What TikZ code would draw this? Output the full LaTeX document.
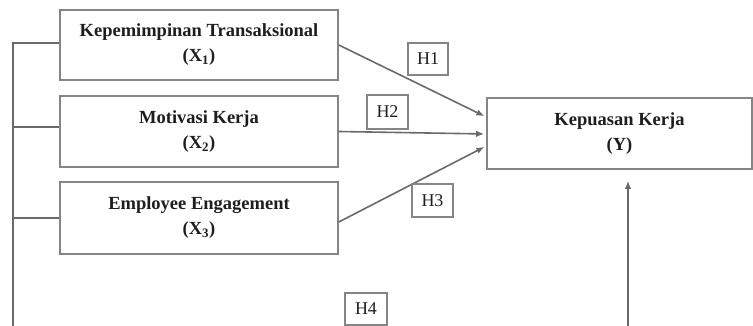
\documentclass[tikz,border=0pt]{standalone}
\usepackage{fontspec}
\setmainfont{Liberation Serif}
\usetikzlibrary{arrows.meta,calc}
\definecolor{boxgray}{HTML}{858585}
\definecolor{linegray}{HTML}{6A6A6A}
\definecolor{textgray}{HTML}{1E1E1E}
\tikzset{
  varbox/.style={draw=boxgray, line width=1.6pt, minimum width=278pt, minimum height=70pt,
    align=center, text=textgray, font=\fontsize{18.5}{25}\selectfont\bfseries, inner sep=0pt},
  hyplabel/.style={draw=boxgray, line width=1.3pt, minimum width=40pt, minimum height=32pt,
    text=textgray, font=\fontsize{18}{20}\selectfont, inner sep=0pt},
  link/.style={draw=linegray, line width=1.6pt},
  linkarrow/.style={link, -{Latex[length=8pt,width=6.5pt]}, shorten >=2pt}
}
\begin{document}
\begin{tikzpicture}[x=1pt,y=1pt]
\useasboundingbox (0,0) rectangle (753,326);
% Independent variables
\node[varbox] (X1) at (199,281) {Kepemimpinan Transaksional\\(X\textsubscript{1})};
\node[varbox, minimum height=71pt] (X2) at (199,194.5) {Motivasi Kerja\\(X\textsubscript{2})};
\node[varbox, minimum height=72pt] (X3) at (199,108) {Employee Engagement\\(X\textsubscript{3})};
% Dependent variable
\node[varbox, minimum width=265pt, minimum height=71pt] (Y) at (619.5,192.5) {Kepuasan Kerja\\(Y)};
% Simultaneous path (left bracket and bottom return)
\coordinate (leftend) at (13,0);
\coordinate (upend) at (628,0);
\draw[link] ($(X1.west)+(0,2)$) -| (leftend);
\draw[link] ($(X2.west)+(0,4.5)$) -- ($(X2.west -| leftend)+(0,4.5)$);
\draw[link] (X3.west) -- (X3.west -| leftend);
\draw[linkarrow, shorten >=11pt] (upend) -- (upend |- Y.south);
% Partial paths
\draw[linkarrow] (X1.east) -- ($(Y.west)+(0,16.5)$);
\draw[linkarrow] (X2.east) -- ($(Y.west)+(0,-0.5)$);
\draw[linkarrow] ($(X3.east)+(0,-4)$) -- ($(Y.west)+(0,-12.5)$);
% Hypothesis labels
\node[hyplabel] (H1) at (428,267) {H1};
\node[hyplabel, minimum width=41pt, minimum height=34pt] (H2) at (387.5,214) {H2};
\node[hyplabel, minimum width=41pt, minimum height=33pt] (H3) at (432.5,125.5) {H3};
\node[hyplabel, minimum width=42pt] (H4) at (366,17) {H4};
\end{tikzpicture}
\end{document}
